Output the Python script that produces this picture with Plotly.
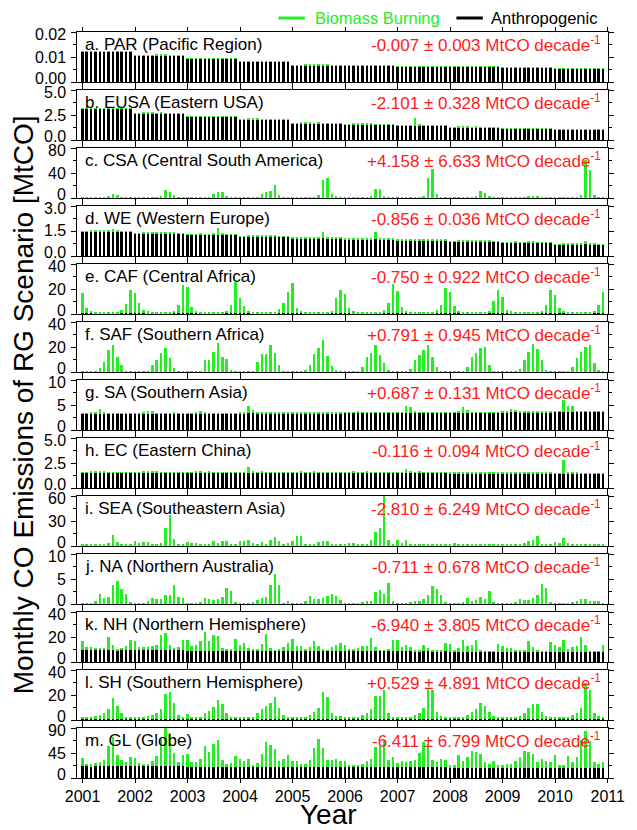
import plotly.graph_objects as go

# ---------------- data ----------------
months = [2001 + m / 12 for m in range(120)]
year_ticks = list(range(2001, 2012))

PAR_anthro = [0.0120, 0.0106, 0.0092, 0.0080, 0.0067, 0.0064, 0.0062, 0.0060, 0.0057, 0.0054]
PAR_bio = [
    0.0001, 0.0001, 0.0002, 0.0002, 0.0002, 0.0003, 0.0003, 0.0003, 0.0002, 0.0001, 0.0001, 0.0001,
    0.0001, 0.0001, 0.0002, 0.0002, 0.0002, 0.0003, 0.0003, 0.0003, 0.0002, 0.0001, 0.0001, 0.0001,
    0.0001, 0.0001, 0.0002, 0.0002, 0.0002, 0.0003, 0.0003, 0.0002, 0.0002, 0.0001, 0.0001, 0.0001,
    0.0001, 0.0001, 0.0002, 0.0002, 0.0002, 0.0002, 0.0003, 0.0002, 0.0002, 0.0001, 0.0001, 0.0001,
    0.0001, 0.0001, 0.0001, 0.0002, 0.0002, 0.0002, 0.0003, 0.0002, 0.0002, 0.0001, 0.0001, 0.0001,
    0.0001, 0.0001, 0.0001, 0.0002, 0.0002, 0.0002, 0.0002, 0.0002, 0.0001, 0.0001, 0.0001, 0.0001,
    0.0001, 0.0001, 0.0001, 0.0002, 0.0002, 0.0002, 0.0002, 0.0002, 0.0001, 0.0001, 0.0001, 0.0001,
    0.0001, 0.0001, 0.0001, 0.0001, 0.0002, 0.0002, 0.0002, 0.0002, 0.0001, 0.0001, 0.0001, 0.0001,
    0.0001, 0.0001, 0.0001, 0.0001, 0.0002, 0.0002, 0.0002, 0.0001, 0.0001, 0.0001, 0.0001, 0.0001,
    0.0001, 0.0001, 0.0001, 0.0001, 0.0002, 0.0002, 0.0002, 0.0001, 0.0001, 0.0001, 0.0001, 0.0001,
]

EUSA_anthro = [3.10, 2.65, 2.30, 2.05, 1.65, 1.55, 1.40, 1.25, 1.10, 1.00]
EUSA_bio = [
    0.03, 0.03, 0.06, 0.08, 0.06, 0.05, 0.06, 0.05, 0.04, 0.05, 0.04, 0.03,
    0.03, 0.03, 0.07, 0.09, 0.06, 0.05, 0.07, 0.05, 0.04, 0.05, 0.04, 0.03,
    0.03, 0.03, 0.06, 0.08, 0.06, 0.05, 0.06, 0.06, 0.04, 0.05, 0.04, 0.03,
    0.03, 0.04, 0.07, 0.10, 0.06, 0.05, 0.05, 0.05, 0.04, 0.05, 0.04, 0.03,
    0.03, 0.03, 0.06, 0.08, 0.06, 0.05, 0.06, 0.05, 0.04, 0.05, 0.04, 0.03,
    0.03, 0.04, 0.08, 0.12, 0.07, 0.06, 0.06, 0.05, 0.04, 0.05, 0.04, 0.03,
    0.03, 0.04, 0.07, 0.10, 0.80, 0.25, 0.06, 0.05, 0.04, 0.05, 0.04, 0.03,
    0.03, 0.03, 0.06, 0.09, 0.06, 0.05, 0.06, 0.05, 0.04, 0.05, 0.04, 0.03,
    0.03, 0.03, 0.06, 0.08, 0.06, 0.05, 0.06, 0.05, 0.04, 0.05, 0.04, 0.03,
    0.03, 0.03, 0.07, 0.09, 0.06, 0.05, 0.06, 0.05, 0.04, 0.05, 0.04, 0.03,
]

CSA_anthro = [0.4, 0.4, 0.4, 0.4, 0.4, 0.4, 0.4, 0.4, 0.4, 0.4]
CSA_bio = [
    0.3, 0.2, 0.2, 0.3, 0.4, 1.0, 2.0, 6.5, 4.0, 1.0, 0.4, 0.3,
    0.3, 0.2, 0.2, 0.3, 0.5, 1.0, 2.5, 12.0, 10.0, 5.0, 1.0, 0.3,
    0.3, 0.2, 0.2, 0.3, 0.5, 1.0, 6.0, 10.0, 9.0, 2.0, 0.5, 0.3,
    0.3, 0.2, 0.2, 0.3, 0.5, 6.0, 9.0, 11.0, 20.0, 5.0, 0.8, 0.3,
    0.3, 0.2, 0.2, 0.3, 0.5, 1.0, 5.0, 29.0, 31.0, 6.0, 2.0, 0.4,
    0.3, 0.2, 0.2, 0.3, 0.5, 1.0, 3.0, 14.0, 14.0, 2.0, 0.5, 0.3,
    0.3, 0.2, 0.2, 0.3, 0.5, 1.0, 3.0, 32.0, 46.0, 6.0, 1.0, 0.3,
    0.3, 0.2, 0.2, 0.3, 0.5, 1.0, 3.0, 11.0, 7.0, 3.0, 0.5, 0.3,
    0.3, 0.2, 0.2, 0.3, 0.5, 1.0, 2.5, 3.0, 2.5, 1.0, 0.4, 0.3,
    0.3, 0.2, 0.2, 0.3, 0.5, 1.0, 5.0, 60.0, 45.0, 4.0, 1.0, 0.3,
]

WE_anthro = [1.47, 1.36, 1.27, 1.17, 1.07, 1.01, 0.95, 0.88, 0.80, 0.70]
WE_bio = [
    0.02, 0.02, 0.04, 0.05, 0.04, 0.05, 0.10, 0.15, 0.05, 0.03, 0.02, 0.02,
    0.02, 0.02, 0.04, 0.05, 0.04, 0.05, 0.06, 0.08, 0.04, 0.03, 0.02, 0.02,
    0.02, 0.02, 0.05, 0.06, 0.04, 0.05, 0.10, 0.40, 0.06, 0.03, 0.02, 0.02,
    0.02, 0.02, 0.04, 0.05, 0.04, 0.04, 0.06, 0.06, 0.04, 0.03, 0.02, 0.02,
    0.02, 0.02, 0.04, 0.05, 0.04, 0.05, 0.08, 0.40, 0.05, 0.03, 0.02, 0.02,
    0.02, 0.02, 0.04, 0.05, 0.04, 0.05, 0.10, 0.45, 0.05, 0.03, 0.02, 0.02,
    0.02, 0.02, 0.04, 0.05, 0.04, 0.05, 0.06, 0.10, 0.04, 0.03, 0.02, 0.02,
    0.02, 0.02, 0.04, 0.05, 0.04, 0.04, 0.05, 0.05, 0.04, 0.03, 0.02, 0.02,
    0.02, 0.02, 0.04, 0.05, 0.04, 0.04, 0.05, 0.05, 0.04, 0.03, 0.02, 0.02,
    0.02, 0.02, 0.04, 0.05, 0.04, 0.05, 0.08, 0.20, 0.05, 0.03, 0.02, 0.02,
]

CAF_anthro = [0.6, 0.6, 0.6, 0.6, 0.6, 0.6, 0.6, 0.6, 0.6, 0.6]
CAF_bio = [
    16.5, 4.5, 2.0, 1.0, 0.8, 0.6, 0.6, 0.6, 0.7, 2.5, 7.5, 19.0,
    16.0, 8.0, 2.7, 1.5, 0.8, 0.6, 0.6, 0.6, 0.7, 2.0, 7.0, 23.0,
    21.0, 5.0, 2.0, 1.0, 0.8, 0.6, 0.6, 0.6, 0.7, 2.0, 7.0, 25.0,
    12.5, 6.0, 2.0, 1.0, 0.8, 0.6, 0.6, 0.6, 0.7, 3.5, 8.0, 17.0,
    24.0, 4.5, 2.0, 1.0, 0.8, 0.6, 0.6, 0.6, 0.7, 2.0, 12.5, 18.7,
    15.5, 4.0, 1.5, 1.0, 0.8, 0.6, 0.6, 0.6, 0.7, 2.7, 8.0, 23.5,
    18.0, 5.0, 2.0, 1.0, 0.8, 0.6, 0.6, 0.6, 0.7, 2.5, 6.7, 20.0,
    17.0, 6.0, 2.0, 1.0, 0.8, 0.6, 0.6, 0.6, 0.7, 2.0, 10.0, 18.7,
    13.0, 3.0, 1.5, 1.0, 0.8, 0.6, 0.6, 0.6, 0.7, 2.0, 7.0, 18.7,
    15.0, 4.5, 2.0, 1.0, 0.8, 0.6, 0.6, 0.6, 0.7, 2.0, 6.7, 16.8,
]

SAF_anthro = [0.3, 0.3, 0.3, 0.3, 0.3, 0.3, 0.3, 0.3, 0.3, 0.3]
SAF_bio = [
    0.3, 0.3, 0.3, 0.5, 3.0, 8.0, 17.0, 21.0, 12.0, 5.0, 0.5, 0.3,
    0.3, 0.3, 0.3, 0.5, 5.3, 9.0, 15.0, 19.0, 11.0, 3.0, 0.5, 0.3,
    0.3, 0.3, 0.3, 0.5, 9.3, 9.3, 15.5, 22.7, 12.0, 10.0, 1.0, 0.3,
    0.3, 0.3, 0.3, 0.5, 8.0, 14.0, 14.0, 21.0, 14.7, 5.6, 0.5, 0.3,
    0.3, 0.3, 0.3, 1.0, 5.6, 14.0, 19.0, 25.0, 12.5, 4.5, 1.0, 0.3,
    0.3, 0.3, 0.3, 0.5, 4.0, 12.0, 14.7, 21.0, 13.0, 6.7, 1.0, 0.3,
    0.3, 0.3, 0.3, 2.0, 9.0, 13.6, 17.0, 21.0, 11.5, 4.0, 0.5, 0.3,
    0.3, 0.3, 0.3, 0.5, 4.0, 11.5, 15.0, 19.0, 20.0, 5.3, 0.5, 0.3,
    0.3, 0.3, 0.3, 0.5, 2.0, 9.0, 15.5, 22.0, 18.0, 9.0, 1.0, 0.3,
    0.3, 0.3, 0.3, 0.5, 3.5, 10.7, 15.5, 20.0, 21.0, 7.0, 1.0, 0.3,
]

SA_anthro = [3.25, 3.28, 3.30, 3.33, 3.36, 3.40, 3.45, 3.50, 3.55, 3.60]
SA_bio = [
    0.1, 0.1, 0.2, 0.2, 1.0, 0.2, 0.1, 0.1, 0.1, 0.1, 0.1, 0.1,
    0.1, 0.1, 0.4, 0.5, 0.5, 0.1, 0.1, 0.1, 0.1, 0.2, 0.1, 0.1,
    0.1, 0.1, 0.3, 0.5, 0.4, 0.1, 0.1, 0.1, 0.1, 0.1, 0.1, 0.1,
    0.1, 0.1, 1.4, 0.6, 0.3, 0.1, 0.1, 0.1, 0.1, 0.1, 0.1, 0.1,
    0.1, 0.1, 0.3, 0.3, 0.2, 0.1, 0.1, 0.1, 0.1, 0.1, 0.1, 0.1,
    0.1, 0.2, 0.2, 0.3, 0.2, 0.1, 0.1, 0.1, 0.1, 0.1, 0.1, 0.1,
    0.1, 0.1, 1.4, 1.2, 0.3, 0.1, 0.1, 0.1, 0.1, 0.1, 0.1, 0.1,
    0.1, 0.1, 0.2, 1.1, 0.5, 0.1, 0.1, 0.1, 0.1, 0.1, 0.1, 0.1,
    0.1, 0.1, 0.6, 0.5, 0.3, 0.1, 0.1, 0.1, 0.1, 0.1, 0.1, 0.1,
    0.1, 0.1, 2.4, 1.2, 1.2, 0.1, 0.1, 0.1, 0.1, 0.1, 0.1, 0.1,
]

EC_anthro = [1.55, 1.55, 1.54, 1.53, 1.52, 1.51, 1.50, 1.49, 1.47, 1.45]
EC_bio = [
    0.05, 0.05, 0.10, 0.08, 0.06, 0.15, 0.05, 0.04, 0.04, 0.05, 0.05, 0.05,
    0.05, 0.05, 0.12, 0.08, 0.06, 0.15, 0.05, 0.04, 0.04, 0.05, 0.05, 0.05,
    0.05, 0.05, 0.10, 0.08, 0.06, 0.15, 0.05, 0.04, 0.04, 0.05, 0.05, 0.05,
    0.05, 0.05, 0.60, 0.10, 0.06, 0.15, 0.05, 0.04, 0.04, 0.05, 0.05, 0.05,
    0.05, 0.05, 0.12, 0.08, 0.06, 0.15, 0.05, 0.04, 0.04, 0.05, 0.05, 0.05,
    0.05, 0.05, 0.10, 0.08, 0.06, 0.15, 0.05, 0.04, 0.04, 0.05, 0.05, 0.05,
    0.05, 0.05, 0.40, 0.15, 0.06, 0.15, 0.05, 0.04, 0.04, 0.05, 0.05, 0.05,
    0.05, 0.05, 0.15, 0.10, 0.06, 0.15, 0.05, 0.04, 0.04, 0.05, 0.05, 0.05,
    0.05, 0.05, 0.12, 0.08, 0.06, 0.15, 0.05, 0.04, 0.04, 0.05, 0.05, 0.05,
    0.05, 0.05, 1.40, 0.20, 0.06, 0.15, 0.05, 0.04, 0.04, 0.05, 0.05, 0.05,
]

SEA_anthro = [0.6, 0.6, 0.6, 0.6, 0.6, 0.6, 0.6, 0.6, 0.6, 0.6]
SEA_bio = [
    2.0, 2.0, 2.0, 2.0, 2.0, 2.0, 3.0, 13.0, 4.0, 1.5, 1.5, 1.5,
    5.0, 3.0, 4.0, 4.0, 2.0, 2.0, 3.0, 21.0, 37.0, 8.0, 2.0, 1.5,
    4.0, 3.0, 3.0, 2.0, 2.0, 2.0, 6.0, 3.0, 5.0, 5.0, 2.0, 2.0,
    6.0, 6.0, 7.0, 3.0, 2.0, 4.0, 2.0, 7.0, 10.0, 6.0, 2.0, 3.0,
    6.0, 12.0, 12.0, 2.0, 1.5, 2.0, 4.0, 5.0, 5.0, 2.0, 1.5, 2.0,
    2.0, 3.0, 3.0, 1.5, 1.5, 1.5, 7.0, 16.0, 21.0, 65.0, 7.0, 2.0,
    7.0, 3.0, 7.0, 2.0, 1.5, 1.5, 1.5, 1.5, 1.5, 1.5, 1.5, 1.5,
    2.0, 3.0, 2.0, 1.5, 1.5, 1.5, 1.5, 1.5, 1.5, 1.5, 1.5, 1.5,
    2.0, 2.0, 2.0, 2.0, 2.0, 3.0, 5.0, 7.0, 12.0, 2.0, 1.5, 1.5,
    4.0, 3.0, 9.0, 3.0, 1.0, 1.0, 1.0, 1.0, 1.0, 1.0, 1.0, 1.0,
]

NA_anthro = [0.05, 0.05, 0.05, 0.05, 0.05, 0.05, 0.05, 0.05, 0.05, 0.05]
NA_bio = [
    0.1, 0.1, 0.1, 0.5, 2.0, 1.1, 1.3, 3.7, 4.5, 3.0, 2.0, 0.3,
    0.1, 0.1, 0.1, 0.5, 1.2, 1.0, 1.0, 1.7, 1.7, 3.7, 1.3, 1.1,
    0.1, 0.1, 0.1, 0.3, 1.2, 0.9, 0.8, 0.9, 1.3, 3.1, 2.5, 0.2,
    0.1, 0.1, 0.1, 0.2, 0.8, 1.2, 1.4, 3.7, 5.9, 3.7, 0.1, 0.5,
    0.1, 0.1, 0.1, 0.5, 1.5, 0.9, 0.9, 1.1, 1.5, 2.0, 1.5, 0.7,
    0.1, 0.1, 0.1, 0.1, 0.2, 0.5, 0.6, 2.3, 2.7, 2.0, 4.1, 0.5,
    0.1, 0.1, 0.1, 0.3, 0.6, 0.6, 1.0, 1.7, 3.5, 3.0, 1.8, 0.3,
    0.1, 0.1, 0.1, 0.3, 1.1, 0.6, 0.8, 1.3, 0.9, 2.5, 0.3, 0.1,
    0.1, 0.1, 0.1, 0.3, 1.0, 0.7, 0.8, 1.1, 1.8, 3.9, 3.1, 0.4,
    0.1, 0.1, 0.1, 0.1, 0.3, 0.6, 0.9, 1.0, 0.5, 0.5, 0.5, 0.1,
]

NH_anthro = [9.4, 9.3, 9.2, 9.1, 9.0, 8.8, 8.6, 8.4, 8.2, 8.0]
NH_bio = [
    7.1, 2.6, 2.6, 1.8, 1.8, 1.6, 10.6, 4.6, 1.3, 1.8, 3.4, 7.9,
    7.5, 2.7, 2.7, 2.7, 3.5, 4.6, 12.7, 14.2, 4.0, 1.9, 2.7, 8.7,
    8.8, 3.6, 4.7, 7.3, 14.8, 7.6, 12.7, 11.3, 2.0, 1.5, 1.5, 9.5,
    4.9, 6.1, 2.4, 0.9, 0.9, 5.6, 13.6, 2.1, 0.3, 1.6, 2.9, 6.4,
    9.7, 3.8, 3.8, 1.0, 3.0, 7.5, 3.8, 1.0, 0.4, 3.0, 4.3, 6.5,
    5.2, 1.2, 1.2, 2.2, 4.0, 4.0, 10.7, 3.2, 0.3, 0.3, 1.9, 8.5,
    8.7, 3.4, 5.3, 3.4, 1.4, 1.4, 5.3, 2.6, 1.4, 1.4, 1.4, 6.9,
    6.3, 1.6, 2.8, 9.6, 4.4, 5.5, 9.5, 1.6, 0.3, 0.3, 0.4, 6.3,
    4.6, 3.0, 3.0, 1.8, 1.8, 1.8, 8.3, 3.8, 0.8, 0.3, 0.3, 7.8,
    5.9, 4.0, 9.9, 2.7, 4.0, 4.8, 12.0, 5.9, 0.2, 0.2, 0.8, 5.9,
]

SH_anthro = [1.0, 1.0, 1.0, 1.0, 1.0, 1.0, 1.0, 1.0, 1.0, 1.0]
SH_bio = [
    1.0, 1.5, 1.5, 2.0, 2.7, 4.3, 8.0, 17.0, 10.0, 4.3, 1.6, 1.5,
    1.0, 1.5, 1.5, 2.0, 2.7, 4.8, 8.0, 19.5, 21.4, 12.9, 2.7, 1.6,
    3.5, 1.5, 1.5, 1.5, 4.3, 6.2, 9.6, 14.7, 11.5, 4.8, 1.5, 1.5,
    1.0, 1.0, 1.5, 1.5, 4.3, 8.0, 10.0, 12.9, 17.4, 8.8, 2.7, 1.5,
    1.0, 1.0, 1.5, 1.5, 2.7, 5.3, 8.8, 21.4, 17.7, 4.8, 2.0, 2.0,
    1.0, 1.5, 1.5, 1.5, 2.7, 4.8, 7.5, 18.0, 18.0, 23.0, 4.8, 1.5,
    1.0, 1.5, 1.5, 1.5, 2.7, 4.3, 8.8, 24.0, 23.3, 5.3, 2.0, 1.5,
    1.0, 1.5, 1.5, 1.5, 2.7, 5.3, 7.5, 12.9, 10.0, 5.3, 2.0, 1.5,
    1.0, 1.5, 1.5, 1.5, 2.0, 4.8, 8.8, 11.5, 11.5, 5.3, 2.0, 1.5,
    1.0, 1.5, 1.5, 1.5, 2.7, 4.8, 8.8, 29.0, 23.3, 4.8, 2.0, 1.5,
]

GL_anthro = [21.0, 20.8, 20.5, 20.3, 20.0, 19.5, 19.0, 18.7, 18.3, 18.0]
GL_bio = [
    15.7, 4.7, 3.5, 6.5, 7.8, 10.8, 36.6, 53.7, 21.3, 10.8, 7.8, 17.0,
    15.9, 6.7, 4.9, 4.9, 9.8, 18.4, 49.0, 72.0, 60.0, 24.5, 8.0, 20.2,
    23.5, 8.3, 8.3, 14.4, 37.1, 26.5, 40.5, 48.1, 12.5, 5.2, 6.5, 18.7,
    14.6, 10.3, 13.4, 2.4, 6.7, 23.7, 45.2, 39.1, 31.1, 9.7, 14.6, 20.7,
    10.0, 10.0, 5.7, 5.7, 11.8, 34.5, 50.4, 34.5, 13.0, 11.8, 13.7, 10.0,
    10.5, 4.5, 4.5, 4.5, 5.5, 10.5, 15.5, 35.5, 38.5, 47.5, 13.5, 18.5,
    8.0, 11.0, 9.0, 11.0, 13.0, 26.0, 45.0, 43.0, 13.0, 9.0, 15.0, 14.0,
    4.3, 4.3, 22.3, 11.3, 19.3, 30.3, 28.3, 24.3, 10.3, 7.3, 12.3, 5.3,
    5.7, 6.7, 7.7, 11.7, 18.7, 30.7, 27.7, 24.7, 9.7, 16.7, 12.7, 10.7,
    23.0, 5.0, 5.0, 22.0, 11.0, 19.0, 50.0, 66.0, 48.0, 11.0, 7.0, 11.0,
]

labels = ["a. PAR (Pacific Region)", "b. EUSA (Eastern USA)", "c. CSA (Central South America)",
          "d. WE (Western Europe)", "e. CAF (Central Africa)", "f. SAF (Southern Africa)",
          "g. SA (Southern Asia)", "h. EC (Eastern China)", "i. SEA (Southeastern Asia)",
          "j. NA (Northern Australia)", "k. NH (Northern Hemisphere)", "l. SH (Southern Hemisphere)",
          "m. GL (Globe)"]
trends = ["-0.007 ± 0.003", "-2.101 ± 0.328", "+4.158 ± 6.633", "-0.856 ± 0.036",
          "-0.750 ± 0.922", "+0.791 ± 0.945", "+0.687 ± 0.131", "-0.116 ± 0.094",
          "-2.810 ± 6.249", "-0.711 ± 0.678", "-6.940 ± 3.805", "+0.529 ± 4.891",
          "-6.411 ± 6.799"]
ymax = [0.02, 5.0, 80, 3.0, 40, 40, 10, 5.0, 60, 10, 40, 40, 90]
ytick_text = [["0.00", "0.01", "0.02"], ["0.0", "2.5", "5.0"], ["0", "40", "80"], ["0.0", "1.5", "3.0"],
              ["0", "20", "40"], ["0", "20", "40"], ["0", "5", "10"], ["0.0", "2.5", "5.0"],
              ["0", "30", "60"], ["0", "5", "10"], ["0", "20", "40"], ["0", "20", "40"], ["0", "45", "90"]]
anthro_list = [PAR_anthro, EUSA_anthro, CSA_anthro, WE_anthro, CAF_anthro, SAF_anthro, SA_anthro,
               EC_anthro, SEA_anthro, NA_anthro, NH_anthro, SH_anthro, GL_anthro]
bio_list = [PAR_bio, EUSA_bio, CSA_bio, WE_bio, CAF_bio, SAF_bio, SA_bio, EC_bio, SEA_bio,
            NA_bio, NH_bio, SH_bio, GL_bio]

# ---------------- figure ----------------
GREEN = "#22EE22"
FONT = "Liberation Sans, Arial, Helvetica, sans-serif"
W, H = 637, 830
ML, MR, MT, MB = 77, 17, 32, 52
PH = H - MT - MB
PW = W - ML - MR
PITCH, PANEL = 58, 50
BARW = 0.45 / 12

fig = go.Figure()
layout = dict(
    width=W, height=H, margin=dict(l=ML, r=MR, t=MT, b=MB),
    paper_bgcolor="white", plot_bgcolor="white", barmode="stack",
    showlegend=False, font=dict(family=FONT, size=16, color="black"),
)
annotations = []
shapes = []

for i in range(13):
    n = i + 1
    xs = "x" if n == 1 else f"x{n}"
    ys = "y" if n == 1 else f"y{n}"
    anthro_monthly = [v for v in anthro_list[i] for _ in range(12)]
    fig.add_trace(go.Bar(x=months, y=anthro_monthly, width=BARW, marker=dict(color="black", line=dict(width=0)),
                         xaxis=xs, yaxis=ys, name="Anthropogenic"))
    fig.add_trace(go.Bar(x=months, y=bio_list[i], width=BARW, marker=dict(color=GREEN, line=dict(width=0)),
                         xaxis=xs, yaxis=ys, name="Biomass Burning"))
    top = 1 - (PITCH * i) / PH
    bot = top - PANEL / PH
    xkey = "xaxis" if n == 1 else f"xaxis{n}"
    ykey = "yaxis" if n == 1 else f"yaxis{n}"
    layout[xkey] = dict(
        domain=[0, 1], anchor=ys, range=[2000.894, 2011.006],
        tickmode="array", tickvals=year_ticks, ticktext=[str(y) for y in year_ticks],
        showticklabels=(n == 13), ticks="outside", ticklen=4, tickwidth=1.2, tickcolor="black",
        showline=True, linecolor="black", linewidth=1.3, mirror="ticks", showgrid=False, zeroline=False,
        tickfont=dict(size=16, family=FONT, color="black"),
        matches=None if n == 1 else "x",
    )
    layout[ykey] = dict(
        domain=[bot, top], anchor=xs, range=[0, ymax[i]],
        tickmode="linear", tick0=0, dtick=ymax[i] / 2, showticklabels=False,
        ticks="outside", ticklen=5, tickwidth=1.2, tickcolor="black",
        minor=dict(tickmode="linear", tick0=0, dtick=ymax[i] / 4, ticks="outside", ticklen=3,
                   tickwidth=1.2, tickcolor="black", showgrid=False),
        showline=True, linecolor="black", linewidth=1.3, mirror="ticks", showgrid=False, zeroline=False,
    )
    # y tick labels (nudged inward at the panel edges, as in the reference)
    for k, frac in enumerate([0, 0.5, 1.0]):
        shift = [3.5, 0, -2.5][k]
        annotations.append(dict(xref="paper", yref=ys, x=-9 / PW, y=ymax[i] * frac,
                                xanchor="right", yanchor="middle", yshift=shift, showarrow=False,
                                text=ytick_text[i][k], font=dict(size=16, family=FONT, color="black")))
    xd = xs + " domain"
    yd = ys + " domain"
    annotations.append(dict(xref=xd, yref=yd, x=0.012, y=1, xanchor="left", yanchor="top", yshift=-1,
                            text=labels[i], showarrow=False, font=dict(size=17, color="black", family=FONT)))
    annotations.append(dict(xref=xd, yref=yd, x=0.99, y=1, xanchor="right", yanchor="top", yshift=1,
                            text=trends[i] + " MtCO decade<sup>-1</sup>", showarrow=False,
                            font=dict(size=17, color="#FF1A1A", family=FONT)))

# axis titles
annotations.append(dict(xref="paper", yref="paper", x=(22 - ML) / PW, y=1 - (405 - MT) / PH,
                        xanchor="center", yanchor="middle", textangle=-90, showarrow=False,
                        text="Monthly CO Emissions of RG Scenario [MtCO]",
                        font=dict(size=28, family=FONT, color="black")))
annotations.append(dict(xref="paper", yref="paper", x=(334 - ML) / PW, y=1 - (815 - MT) / PH,
                        xanchor="center", yanchor="middle", showarrow=False, text="Year",
                        font=dict(size=28, family=FONT, color="black")))

# legend
ly = 1 - (18 - MT) / PH
shapes.append(dict(type="line", xref="paper", yref="paper", x0=(283 - ML) / PW, x1=(310 - ML) / PW,
                   y0=ly, y1=ly, line=dict(color=GREEN, width=3)))
shapes.append(dict(type="line", xref="paper", yref="paper", x0=(465 - ML) / PW, x1=(492 - ML) / PW,
                   y0=ly, y1=ly, line=dict(color="black", width=3)))
annotations.append(dict(xref="paper", yref="paper", x=(318 - ML) / PW, y=ly, xanchor="left", yanchor="middle",
                        showarrow=False, text="Biomass Burning", font=dict(size=16.5, color=GREEN, family=FONT)))
annotations.append(dict(xref="paper", yref="paper", x=(498 - ML) / PW, y=ly, xanchor="left", yanchor="middle",
                        showarrow=False, text="Anthropogenic", font=dict(size=16.5, color="black", family=FONT)))

layout["annotations"] = annotations
layout["shapes"] = shapes
fig.update_layout(**layout)
fig.write_html("out.html")
